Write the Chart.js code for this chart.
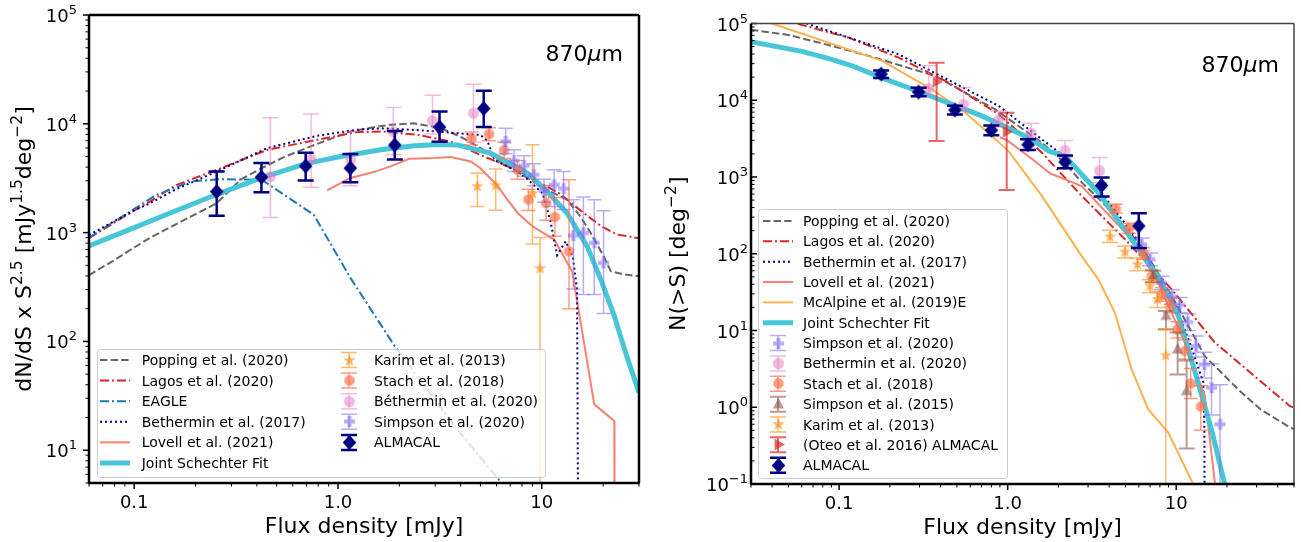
<!DOCTYPE html>
<html>
<head>
<meta charset="utf-8">
<script src="https://cdn.jsdelivr.net/npm/chart.js@4.4.1/dist/chart.umd.min.js"></script>
<style>
  html, body { margin: 0; padding: 0; background: #fff; }
  #wrap { position: relative; width: 1301px; height: 542px; overflow: hidden; }
  #left { position: absolute; left: 0; top: 0; width: 650px; height: 542px; }
  #right { position: absolute; left: 650px; top: 0; width: 651px; height: 542px; }
</style>
</head>
<body>
<div id="wrap">
  <canvas id="left" width="650" height="542"></canvas>
  <canvas id="right" width="651" height="542"></canvas>
</div>
<script>
const FONT = '"DejaVu Sans", sans-serif';

// ================= Differential number counts (left panel) =================
// Model curves: flux density S [mJy] and dN/dS x S^2.5
const popDiffS = [0.06, 0.08, 0.1, 0.12, 0.175, 0.255, 0.332, 0.424, 0.55, 0.733, 1.0, 1.15, 1.5, 1.81, 2.36, 3.19, 4.0, 5.0, 6.06, 7.5, 8.8, 10.5, 13.3, 15.5, 17.4, 20, 21.8, 25, 30];
const popDiffN = [407, 560, 730, 900, 1300, 1870, 3060, 3925, 5000, 6200, 7700, 8510, 9300, 9800, 10100, 9140, 7600, 6000, 4680, 3700, 3060, 2500, 2010, 1400, 993, 620, 442, 415, 397];

const lagDiffS = [0.06, 0.1, 0.12, 0.158, 0.255, 0.45, 0.79, 1.24, 1.68, 2.45, 3.57, 5.2, 6.35, 8.0, 9.7, 12.2, 15.6, 19.5, 23.5, 30];
const lagDiffN = [889, 1600, 1936, 2700, 3785, 5770, 7130, 8390, 8490, 7925, 6880, 5010, 4300, 3560, 2900, 2296, 1580, 1150, 959, 889];

const eagleDiffS = [0.06, 0.1, 0.128, 0.19, 0.265, 0.424, 0.76, 1.15, 1.88, 3.8, 6.35, 7.5];
const eagleDiffN = [900, 1650, 2212, 2950, 3100, 3050, 1463, 384, 93, 16, 5, 3.5];

const bet17DiffS = [0.06, 0.1, 0.12, 0.16, 0.255, 0.45, 0.79, 1.24, 1.62, 2.03, 2.6, 3.57, 4.5, 5.0, 5.4, 5.9, 7.3, 8.5, 10.1, 11.0, 11.9, 13.1, 14.2, 14.9, 15.1];
const bet17DiffN = [950, 1600, 1870, 2500, 3650, 5990, 7760, 8810, 9100, 8900, 8700, 8300, 8000, 7900, 7000, 4600, 3800, 3100, 2300, 1300, 620, 830, 600, 300, 1];

const lovDiffS = [0.885, 1.15, 1.5, 1.81, 2.23, 3.0, 3.57, 4.48, 5.0, 6.06, 6.78, 7.66, 9.0, 11.5, 14.1, 18.1, 22.7, 22.75];
const lovDiffN = [2445, 3180, 3600, 4060, 4777, 4850, 4945, 4510, 3900, 2700, 2010, 1500, 1143, 863, 440, 26.4, 18.6, 1];

const fitDiffS = [0.06, 0.1, 0.16, 0.25, 0.42, 0.69, 1.0, 1.62, 2.36, 3.15, 3.85, 5.6, 8.5, 10.6, 13.3, 16.7, 19.5, 22.7, 26, 30];
const fitDiffN = [753, 1110, 1590, 2218, 3189, 4280, 4946, 5770, 6300, 6450, 6400, 5380, 3530, 2395, 1517, 748, 370, 171, 75, 34];

// Measurements with error bars
const karDiffS = [4.83, 5.94, 9.0, 9.81];
const karDiffN = [2660, 2716, 2300, 468];
const karDiffLo = [1741, 1603, 787, 0.001];
const karDiffHi = [3530, 3840, 6410, 900];

const staDiffS = [4.51, 5.51, 6.53, 7.6, 8.6, 10.5, 11.6, 13.6];
const staDiffN = [7330, 8040, 5690, 3785, 2010, 1870, 1393, 673];
const staDiffLo = [6400, 7000, 4800, 3100, 1600, 1300, 925, 200];
const staDiffHi = [8400, 9200, 6800, 4600, 2500, 2700, 2100, 3060];

const bet20DiffS = [0.466, 0.738, 1.152, 1.867, 2.91, 4.62];
const bet20DiffN = [3290, 4775, 4680, 8490, 10670, 12530];
const bet20DiffLo = [1374, 2606, 2700, 5200, 8050, 6760];
const bet20DiffHi = [11350, 12280, 8490, 14100, 18330, 23100];

const sim20DiffS = [6.65, 7.31, 8.19, 9.16, 10.26, 11.5, 12.8, 14.3, 16.0, 18.1, 20.1];
const sim20DiffN = [6880, 4580, 4120, 3400, 2430, 2754, 2535, 938, 993, 805, 527];
const sim20DiffLo = [5310, 3650, 3300, 2700, 1900, 1742, 1627, 304, 270, 270, 181];
const sim20DiffHi = [9120, 5770, 5100, 4300, 3100, 3790, 3650, 2010, 2130, 2010, 1592];

const almDiffS = [0.254, 0.421, 0.694, 1.15, 1.90, 3.15, 5.19];
const almDiffN = [2383, 3236, 4093, 3917, 6380, 9335, 13840];
const almDiffLo = [1429, 2350, 3013, 2904, 4700, 6826, 9335];
const almDiffHi = [3640, 4365, 5433, 5285, 8610, 12960, 20080];

// ================= Cumulative number counts (right panel) =================
const popCumS = [0.03, 0.05, 0.1, 0.15, 0.372, 0.843, 1.594, 2.2, 2.75, 3.61, 4.97, 6.0, 7.5, 10, 14.8, 23.3, 31.7, 47.7, 50];
const popCumN = [83000, 71000, 48300, 37800, 20700, 7600, 2807, 1500, 850, 480, 220, 137, 65, 22.2, 4.62, 1.71, 0.936, 0.54, 0.52];

const lagCumS = [0.03, 0.0576, 0.114, 0.2255, 0.446, 0.883, 1.594, 2.75, 4.97, 9.4, 17.0, 47.2, 50];
const lagCumN = [180000, 98000, 65500, 35900, 17000, 6580, 2080, 567, 154, 34.3, 6.93, 1.04, 0.98];

const bet17CumS = [0.03, 0.066, 0.2255, 0.883, 1.594, 2.19, 3.61, 6.0, 10, 12.2, 14.5, 14.7, 14.75];
const bet17CumN = [200000, 98000, 39700, 8440, 3097, 1833, 617, 144, 20, 6.4, 2.1, 0.5, 0.01];

const lovCumS = [0.9, 0.987, 1.42, 1.784, 2.75, 5.44, 7.83, 11.27, 14.8, 17.0, 17.5];
const lovCumN = [3300, 3035, 1663, 1117, 763, 154, 41.9, 6.94, 1.40, 0.1, 0.05];

const mcaCumS = [0.03, 0.040, 0.18, 0.355, 0.56, 1.01, 1.594, 1.746, 2.75, 3.45, 4.33, 5.44, 6.83, 8.98, 12.6, 14];
const mcaCumN = [140000, 100000, 32600, 13900, 6900, 2190, 567, 420, 93.3, 46.4, 17.0, 3.12, 0.936, 0.467, 0.1, 0.06];

const fitCumS = [0.0291, 0.06, 0.085, 0.116, 0.183, 0.288, 0.703, 1.39, 1.746, 2.19, 3.45, 5.44, 7.83, 10.3, 13.5, 16.2, 19.4, 21];
const fitCumN = [58500, 43400, 35400, 28800, 19300, 13300, 6250, 3100, 2190, 1870, 625, 154, 51, 15.5, 2.08, 0.51, 0.1, 0.05];

const sim20CumS = [6.24, 6.99, 8.2, 9.42, 10.5, 11.7, 13.1, 14.7, 16.2, 18.2];
const sim20CumN = [132, 84.7, 41.8, 27.5, 21.5, 12.9, 6.25, 3.61, 1.80, 0.60];
const sim20CumLo = [110, 70, 34, 22, 17, 10, 4.5, 2.4, 0.79, 0.001];
const sim20CumHi = [160, 102, 51, 34, 27, 16.5, 8.5, 5.2, 3.7, 1.97];

const bet20CumS = [0.34, 0.547, 0.883, 1.38, 2.19, 3.51];
const bet20CumN = [14190, 8890, 5520, 3715, 2212, 1210];
const bet20CumLo = [11500, 7300, 4500, 3000, 1800, 841];
const bet20CumHi = [28200, 14650, 7250, 5020, 2985, 1796];

const staCumS = [4.38, 5.27, 6.38, 7.15, 8.2, 9.18, 10.17, 11.27, 12.2, 14.0];
const staCumN = [386, 216, 101, 50.9, 29.5, 20.9, 10.3, 5.41, 2.04, 1.02];
const staCumLo = [340, 185, 85, 42, 24, 17, 8, 4, 1.3, 0.5];
const staCumHi = [440, 250, 120, 62, 36, 26, 13, 7.5, 3.2, 1.9];

const sim15CumS = [7.31, 8.7, 10.2, 11.53];
const sim15CumN = [50.9, 15.5, 5.66, 1.62];
const sim15CumLo = [43, 10.3, 2.67, 0.29];
const sim15CumHi = [60, 17.9, 9.4, 4.2];

const karCumS = [4.05, 4.97, 5.89, 6.99, 7.74, 8.67];
const karCumN = [166.5, 105.5, 72.6, 37.9, 25.4, 4.72];
const karCumLo = [140, 88, 60, 31, 20, 0.001];
const karCumHi = [202, 126, 88, 46, 32, 10.5];

const oteCumS = [0.379, 0.987];
const oteCumN = [17450, 3890];
const oteCumLo = [2940, 678];
const oteCumHi = [30800, 6890];

const almCumS = [0.1776, 0.2963, 0.486, 0.80, 1.32, 2.19, 3.61, 6.0];
const almCumN = [21950, 12790, 7450, 4080, 2636, 1570, 775, 230];
const almCumLo = [19500, 11300, 6500, 3500, 2240, 1300, 556, 119];
const almCumHi = [24500, 14500, 8500, 4700, 3100, 1900, 984, 337];

// ================= Marker glyphs =================
function makeMarker(kind, fill, r) {
  const size = Math.ceil(2 * r + 2);
  const c = document.createElement('canvas');
  c.width = size; c.height = size;
  const g = c.getContext('2d');
  g.translate(size / 2, size / 2);
  g.fillStyle = fill;
  g.beginPath();
  if (kind === 'circle') {
    g.arc(0, 0, r, 0, Math.PI * 2);
  } else if (kind === 'diamond') {
    g.moveTo(0, -r); g.lineTo(r * 0.9, 0); g.lineTo(0, r); g.lineTo(-r * 0.9, 0);
  } else if (kind === 'star') {
    for (let i = 0; i < 10; i++) {
      const a = -Math.PI / 2 + i * Math.PI / 5;
      const rr = i % 2 ? r * 0.42 : r;
      g.lineTo(Math.cos(a) * rr, Math.sin(a) * rr);
    }
  } else if (kind === 'oct') {
    for (let i = 0; i < 8; i++) {
      const a = Math.PI / 8 + i * Math.PI / 4;
      g.lineTo(Math.cos(a) * r, Math.sin(a) * r);
    }
  } else if (kind === 'plus') {
    const w = r * 0.36;
    const pts = [[-w, -r], [w, -r], [w, -w], [r, -w], [r, w], [w, w], [w, r], [-w, r], [-w, w], [-r, w], [-r, -w], [-w, -w]];
    pts.forEach(p => g.lineTo(p[0], p[1]));
  } else if (kind === 'triUp') {
    g.moveTo(0, -r); g.lineTo(r * 0.87, r * 0.6); g.lineTo(-r * 0.87, r * 0.6);
  } else if (kind === 'triRight') {
    g.moveTo(r, 0); g.lineTo(-r * 0.6, r * 0.87); g.lineTo(-r * 0.6, -r * 0.87);
  }
  g.closePath();
  g.fill();
  return c;
}

const C = {
  pop: '#666666', lag: '#d62728', eagle: '#1f77b4', bet17: '#000080', lov: '#fa8072',
  mca: '#ffb14e', fit: '#46c6d6',
  kar: 'rgba(255,140,20,0.62)', sta: 'rgba(255,110,70,0.68)', bet20: 'rgba(227,119,194,0.5)',
  sim20: 'rgba(123,104,238,0.55)', sim15: 'rgba(140,86,75,0.6)', ote: 'rgba(214,39,40,0.7)', alm: '#000080'
};

const DASH = [7.4, 3.2];
const DASHDOT = [9, 3, 2, 3];
const DOT = [2, 3];

function pts(S, N) { return S.map((s, i) => ({ x: s, y: N[i] })); }

function lineDs(label, S, N, color, width, dash, order) {
  return { label, data: pts(S, N), showLine: true, borderColor: color, backgroundColor: color,
    borderWidth: width, borderDash: dash || [], pointRadius: 0, pointHoverRadius: 0, tension: 0,
    fill: false, order, clip: 0, kind: 'line' };
}
function errDs(label, S, N, lo, hi, glyph, errColor, errWidth, capHalf, order) {
  return { label, data: pts(S, N), showLine: false, pointStyle: glyph, pointRadius: 5, pointHoverRadius: 5,
    order, clip: 0, errLo: lo, errHi: hi, errColor, errWidth, capHalf, kind: 'err' };
}

// ================= Drawing helpers =================
function drawParts(ctx, parts, x, y, align) {
  let w = 0;
  parts.forEach(p => {
    ctx.font = (p.it ? 'italic ' : '') + p.s + 'px ' + FONT;
    p.w = ctx.measureText(p.t).width; w += p.w;
  });
  let cx = align === 'right' ? x - w : align === 'center' ? x - w / 2 : x;
  ctx.textAlign = 'left';
  ctx.textBaseline = 'alphabetic';
  parts.forEach(p => {
    ctx.font = (p.it ? 'italic ' : '') + p.s + 'px ' + FONT;
    ctx.fillText(p.t, cx, y + (p.dy || 0));
    cx += p.w;
  });
}

function powLabel(e) {
  return [{ t: '10', s: 18 }, { t: e < 0 ? '\u2212' + (-e) : String(e), s: 13, dy: -8 }];
}

const deco = {
  id: 'deco',
  beforeDatasetDraw(chart, args) {
    const ds = chart.data.datasets[args.index];
    if (!ds.errLo) return;
    const { ctx, chartArea: a } = chart;
    const xs = chart.scales.x, ys = chart.scales.y;
    ctx.save();
    ctx.beginPath();
    ctx.rect(a.left, a.top, a.right - a.left, a.bottom - a.top);
    ctx.clip();
    ctx.strokeStyle = ds.errColor;
    ctx.lineWidth = ds.errWidth;
    ctx.setLineDash([]);
    ds.data.forEach((p, i) => {
      const x = xs.getPixelForValue(p.x);
      const y1 = Math.min(ys.getPixelForValue(ds.errLo[i]), a.bottom + 50);
      const y2 = ys.getPixelForValue(ds.errHi[i]);
      const h = ds.capHalf;
      ctx.beginPath();
      ctx.moveTo(x, y1); ctx.lineTo(x, y2);
      ctx.moveTo(x - h, y1); ctx.lineTo(x + h, y1);
      ctx.moveTo(x - h, y2); ctx.lineTo(x + h, y2);
      ctx.stroke();
    });
    ctx.restore();
  },
  afterDraw(chart, args, o) {
    const { ctx, chartArea: a } = chart;
    const xs = chart.scales.x, ys = chart.scales.y;
    ctx.save();
    ctx.setLineDash([]);
    ctx.fillStyle = '#000';

    // tick marks
    function logTicks(min, max) {
      const out = [];
      for (let e = Math.floor(Math.log10(min)) - 1; e <= Math.ceil(Math.log10(max)); e++) {
        for (let k = 1; k <= 9; k++) {
          const v = k * Math.pow(10, e);
          if (v >= min * 0.999 && v <= max * 1.001) out.push({ v, major: k === 1 });
        }
      }
      return out;
    }
    ctx.strokeStyle = '#000';
    logTicks(xs.min, xs.max).forEach(t => {
      const px = xs.getPixelForValue(t.v);
      ctx.lineWidth = t.major ? 1.5 : 1;
      const len = t.major ? 6 : 3.5;
      ctx.beginPath(); ctx.moveTo(px, a.bottom); ctx.lineTo(px, a.bottom + len); ctx.stroke();
    });
    logTicks(ys.min, ys.max).forEach(t => {
      const py = ys.getPixelForValue(t.v);
      ctx.lineWidth = t.major ? 1.5 : 1;
      const len = t.major ? 6 : 3.5;
      const d = o.yTickDir === 'in' ? 1 : -1;
      ctx.beginPath(); ctx.moveTo(a.left, py); ctx.lineTo(a.left + d * len, py); ctx.stroke();
    });

    // frame
    const sp = o.spines;
    function spine(s, x1, y1, x2, y2) {
      ctx.strokeStyle = s[0]; ctx.lineWidth = s[1];
      ctx.beginPath(); ctx.moveTo(x1, y1); ctx.lineTo(x2, y2); ctx.stroke();
    }
    spine(sp.top, a.left, a.top, a.right, a.top);
    spine(sp.right, a.right, a.top, a.right, a.bottom);
    spine(sp.left, a.left, a.top, a.left, a.bottom + 0.6);
    spine(sp.bottom, a.left - 0.6, a.bottom, a.right + 0.6, a.bottom);

    // tick labels
    ctx.fillStyle = '#000';
    o.xLabels.forEach(([v, txt]) => {
      drawParts(ctx, [{ t: txt, s: 18 }], xs.getPixelForValue(v), a.bottom + 25, 'center');
    });
    o.yExps.forEach(e => {
      drawParts(ctx, powLabel(e), o.yLabelRight, ys.getPixelForValue(Math.pow(10, e)) + 7, 'right');
    });

    // axis titles
    drawParts(ctx, [{ t: 'Flux density [mJy]', s: 22 }], (a.left + a.right) / 2, o.xTitleY, 'center');
    ctx.save();
    ctx.translate(o.yTitleX, (a.top + a.bottom) / 2);
    ctx.rotate(-Math.PI / 2);
    drawParts(ctx, o.yTitle, 0, 0, 'center');
    ctx.restore();

    // wavelength tag
    drawParts(ctx, [{ t: '870', s: 22 }, { t: '\u03bc', s: 22, it: true }, { t: 'm', s: 22 }], o.tag[0], o.tag[1], 'right');

    // legend
    const L = o.legend;
    ctx.fillStyle = 'rgba(255,255,255,0.8)';
    ctx.strokeStyle = '#cccccc';
    ctx.lineWidth = 1;
    ctx.beginPath();
    if (ctx.roundRect) ctx.roundRect(L.box[0] + 0.5, L.box[1] + 0.5, L.box[2], L.box[3], 3);
    else ctx.rect(L.box[0] + 0.5, L.box[1] + 0.5, L.box[2], L.box[3]);
    ctx.fill(); ctx.stroke();
    L.rows.forEach(([label, col, row]) => {
      const ds = chart.data.datasets.find(d => d.label === label);
      const cg = L.cols[col];
      const y = L.y0 + row * L.dy;
      if (ds.kind === 'line') {
        ctx.strokeStyle = ds.borderColor;
        ctx.lineWidth = ds.borderWidth;
        ctx.setLineDash(ds.borderDash);
        ctx.beginPath(); ctx.moveTo(cg.x0, y); ctx.lineTo(cg.x1, y); ctx.stroke();
        ctx.setLineDash([]);
      } else {
        const cx = (cg.x0 + cg.x1) / 2;
        ctx.strokeStyle = ds.errColor;
        ctx.lineWidth = ds.errWidth;
        const h = 8, v = 7.5;
        ctx.beginPath();
        ctx.moveTo(cx, y - v); ctx.lineTo(cx, y + v);
        ctx.moveTo(cx - h, y - v); ctx.lineTo(cx + h, y - v);
        ctx.moveTo(cx - h, y + v); ctx.lineTo(cx + h, y + v);
        ctx.stroke();
        const g = ds.pointStyle;
        ctx.drawImage(g, Math.round(cx - g.width / 2), Math.round(y - g.height / 2));
      }
      ctx.fillStyle = '#000';
      drawParts(ctx, [{ t: label, s: 14 }], cg.tx, y + 5, 'left');
    });
    ctx.restore();
  }
};

function baseOptions(padding, xr, yr, deco) {
  return {
    responsive: false,
    animation: false,
    events: [],
    layout: { padding },
    scales: {
      x: { type: 'logarithmic', min: xr[0], max: xr[1], display: false },
      y: { type: 'logarithmic', min: yr[0], max: yr[1], display: false }
    },
    plugins: { legend: { display: false }, tooltip: { enabled: false }, deco }
  };
}

// ================= Left panel: dN/dS =================
const leftDatasets = [
  errDs('ALMACAL', almDiffS, almDiffN, almDiffLo, almDiffHi, makeMarker('diamond', C.alm, 7.5), C.alm, 2.5, 8, 1),
  errDs('Simpson et al. (2020)', sim20DiffS, sim20DiffN, sim20DiffLo, sim20DiffHi, makeMarker('plus', C.sim20, 5.5), C.sim20, 1.5, 7, 2),
  errDs('B\u00e9thermin et al. (2020)', bet20DiffS, bet20DiffN, bet20DiffLo, bet20DiffHi, makeMarker('circle', C.bet20, 5.5), C.bet20, 1.5, 8, 3),
  errDs('Stach et al. (2018)', staDiffS, staDiffN, staDiffLo, staDiffHi, makeMarker('oct', C.sta, 5.5), C.sta, 1.5, 7, 4),
  errDs('Karim et al. (2013)', karDiffS, karDiffN, karDiffLo, karDiffHi, makeMarker('star', C.kar, 6.5), C.kar, 1.5, 7, 5),
  lineDs('Joint Schechter Fit', fitDiffS, fitDiffN, C.fit, 5, [], 10),
  lineDs('Bethermin et al. (2017)', bet17DiffS, bet17DiffN, C.bet17, 2, DOT, 11),
  lineDs('Lovell et al. (2021)', lovDiffS, lovDiffN, C.lov, 2, [], 12),
  lineDs('EAGLE', eagleDiffS, eagleDiffN, C.eagle, 2, DASHDOT, 13),
  lineDs('Lagos et al. (2020)', lagDiffS, lagDiffN, C.lag, 2, DASHDOT, 14),
  lineDs('Popping et al. (2020)', popDiffS, popDiffN, C.pop, 2, DASH, 15)
];

new Chart(document.getElementById('left'), {
  type: 'scatter',
  data: { datasets: leftDatasets },
  options: baseOptions({ left: 89, right: 11, top: 15, bottom: 59 }, [0.06, 30], [5, 1e5], {
    xLabels: [[0.1, '0.1'], [1, '1.0'], [10, '10']],
    yExps: [1, 2, 3, 4, 5],
    yTickDir: 'out',
    yLabelRight: 77,
    spines: { top: ['#000', 2.5], right: ['#000', 2.5], left: ['#000', 2.5], bottom: ['#000', 2.5] },
    xTitleY: 533,
    yTitleX: 31,
    yTitle: [
      { t: 'dN/dS x S', s: 22 }, { t: '2.5', s: 15.5, dy: -9 }, { t: ' [mJy', s: 22 },
      { t: '1.5', s: 15.5, dy: -9 }, { t: 'deg', s: 22 }, { t: '\u22122', s: 15.5, dy: -9 }, { t: ']', s: 22 }
    ],
    tag: [623, 61],
    legend: {
      box: [97, 349, 448, 128],
      y0: 360, dy: 20.6,
      cols: [{ x0: 100, x1: 130, tx: 141.7 }, { x0: 333, x1: 365, tx: 374 }],
      rows: [
        ['Popping et al. (2020)', 0, 0], ['Lagos et al. (2020)', 0, 1], ['EAGLE', 0, 2],
        ['Bethermin et al. (2017)', 0, 3], ['Lovell et al. (2021)', 0, 4], ['Joint Schechter Fit', 0, 5],
        ['Karim et al. (2013)', 1, 0], ['Stach et al. (2018)', 1, 1], ['B\u00e9thermin et al. (2020)', 1, 2],
        ['Simpson et al. (2020)', 1, 3], ['ALMACAL', 1, 4]
      ]
    }
  }),
  plugins: [deco]
});

// ================= Right panel: N(>S) =================
const rightDatasets = [
  errDs('ALMACAL', almCumS, almCumN, almCumLo, almCumHi, makeMarker('diamond', C.alm, 7.5), C.alm, 2.5, 8, 1),
  errDs('(Oteo et al. 2016) ALMACAL', oteCumS, oteCumN, oteCumLo, oteCumHi, makeMarker('triRight', C.ote, 6.5), C.ote, 2, 8, 2),
  errDs('Karim et al. (2013)', karCumS, karCumN, karCumLo, karCumHi, makeMarker('star', C.kar, 6.5), C.kar, 1.5, 8, 3),
  errDs('Simpson et al. (2015)', sim15CumS, sim15CumN, sim15CumLo, sim15CumHi, makeMarker('triUp', C.sim15, 6.5), C.sim15, 2, 8, 4),
  errDs('Stach et al. (2018)', staCumS, staCumN, staCumLo, staCumHi, makeMarker('oct', C.sta, 5.5), C.sta, 1.5, 7, 5),
  errDs('Bethermin et al. (2020)', bet20CumS, bet20CumN, bet20CumLo, bet20CumHi, makeMarker('circle', C.bet20, 5.5), C.bet20, 1.5, 8, 6),
  errDs('Simpson et al. (2020)', sim20CumS, sim20CumN, sim20CumLo, sim20CumHi, makeMarker('plus', C.sim20, 5.5), C.sim20, 1.5, 8, 7),
  lineDs('Joint Schechter Fit', fitCumS, fitCumN, C.fit, 5, [], 10),
  lineDs('McAlpine et al. (2019)E', mcaCumS, mcaCumN, C.mca, 2, [], 11),
  lineDs('Lovell et al. (2021)', lovCumS, lovCumN, C.lov, 2, [], 12),
  lineDs('Bethermin et al. (2017)', bet17CumS, bet17CumN, C.bet17, 2, DOT, 13),
  lineDs('Lagos et al. (2020)', lagCumS, lagCumN, C.lag, 2, DASHDOT, 14),
  lineDs('Popping et al. (2020)', popCumS, popCumN, C.pop, 2, DASH, 15)
];

new Chart(document.getElementById('right'), {
  type: 'scatter',
  data: { datasets: rightDatasets },
  options: baseOptions({ left: 101, right: 7, top: 23.5, bottom: 58 }, [0.03, 50], [0.1, 1e5], {
    xLabels: [[0.1, '0.1'], [1, '1.0'], [10, '10']],
    yExps: [-1, 0, 1, 2, 3, 4, 5],
    yTickDir: 'in',
    yLabelRight: 98,
    spines: { top: ['#444', 1.5], right: ['#444', 1.5], left: ['#000', 2.5], bottom: ['#000', 2.5] },
    xTitleY: 534,
    yTitleX: 35,
    yTitle: [{ t: 'N(>S) [deg', s: 22 }, { t: '\u22122', s: 15.5, dy: -9 }, { t: ']', s: 22 }],
    tag: [629, 71.5],
    legend: {
      box: [108, 209, 249, 269],
      y0: 221, dy: 20.35,
      cols: [{ x0: 113, x1: 143, tx: 153 }],
      rows: [
        ['Popping et al. (2020)', 0, 0], ['Lagos et al. (2020)', 0, 1], ['Bethermin et al. (2017)', 0, 2],
        ['Lovell et al. (2021)', 0, 3], ['McAlpine et al. (2019)E', 0, 4], ['Joint Schechter Fit', 0, 5],
        ['Simpson et al. (2020)', 0, 6], ['Bethermin et al. (2020)', 0, 7], ['Stach et al. (2018)', 0, 8],
        ['Simpson et al. (2015)', 0, 9], ['Karim et al. (2013)', 0, 10], ['(Oteo et al. 2016) ALMACAL', 0, 11],
        ['ALMACAL', 0, 12]
      ]
    }
  }),
  plugins: [deco]
});
</script>
</body>
</html>
